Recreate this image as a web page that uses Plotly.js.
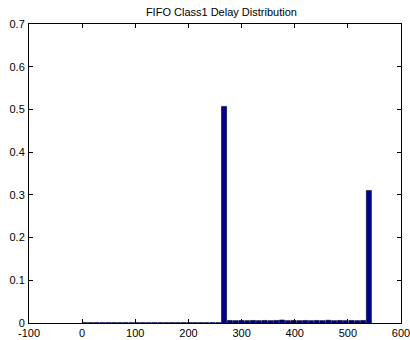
<!DOCTYPE html>
<html>
<head>
<meta charset="utf-8">
<script src="https://cdn.plot.ly/plotly-3.0.1.min.js"></script>
<style>html,body{margin:0;padding:0;background:#fff;}#chart{width:410px;height:340px;}</style>
</head>
<body>
<div id="chart"></div>
<script>
// Bin centres (delay)
const delayBins = [5.45, 16.35, 27.25, 38.15, 49.05, 59.95, 70.85, 81.75, 92.65, 103.55,
  114.45, 125.35, 136.25, 147.15, 158.05, 168.95, 179.85, 190.75, 201.65, 212.55,
  223.45, 234.35, 245.25, 256.15, 267.05, 277.95, 288.85, 299.75, 310.65, 321.55,
  332.45, 343.35, 354.25, 365.15, 376.05, 386.95, 397.85, 408.75, 419.65, 430.55,
  441.45, 452.35, 463.25, 474.15, 485.05, 495.95, 506.85, 517.75, 528.65, 539.55];
// Relative frequency per bin
const frequency = [0.0008, 0.0007, 0.0008, 0.0007, 0.0008, 0.0008, 0.0007, 0.0008, 0.0007, 0.0008,
  0.0008, 0.0007, 0.0008, 0.0008, 0.0007, 0.0008, 0.0007, 0.0008, 0.0008, 0.0007,
  0.0008, 0.0007, 0.0008, 0.0008, 0.507, 0.0060, 0.0055, 0.0060, 0.0055, 0.0060,
  0.0055, 0.0060, 0.0055, 0.0060, 0.0070, 0.0055, 0.0060, 0.0055, 0.0060, 0.0055,
  0.0060, 0.0055, 0.0065, 0.0055, 0.0060, 0.0055, 0.0060, 0.0055, 0.0060, 0.310];
const xTicks = [-100, 0, 100, 200, 300, 400, 500, 600];
const yTicks = [0, 0.1, 0.2, 0.3, 0.4, 0.5, 0.6, 0.7];

const trace = {
  type: 'bar',
  x: delayBins,
  y: frequency,
  width: 9.5,
  marker: {color: '#00008f', line: {color: '#000033', width: 0.6}},
  hoverinfo: 'x+y'
};

const axisBase = {
  showline: true, linecolor: '#000', linewidth: 1, mirror: 'ticks',
  ticks: 'inside', ticklen: 4, tickcolor: '#000', tickwidth: 1,
  showgrid: false, zeroline: false, ticklabeloverflow: 'allow',
  tickfont: {family: 'Liberation Sans, Arial, sans-serif', size: 11, color: '#000'}
};

const layout = {
  width: 410, height: 340,
  margin: {l: 29, r: 9, t: 24, b: 17},
  paper_bgcolor: '#fff', plot_bgcolor: '#fff',
  title: {text: 'FIFO Class1 Delay Distribution', x: 0.54, xanchor: 'center',
          yref: 'container', y: 0.975, yanchor: 'top',
          font: {family: 'Liberation Sans, Arial, sans-serif', size: 11, color: '#000'}},
  xaxis: Object.assign({}, axisBase, {range: [-100.0001, 600.0001], tickvals: xTicks,
          ticktext: xTicks.map(String), ticklabelstandoff: 0}),
  yaxis: Object.assign({}, axisBase, {range: [0, 0.70001], tickvals: yTicks,
          ticktext: yTicks.map(String), ticklabelstandoff: 1}),
  showlegend: false,
  bargap: 0
};

Plotly.newPlot('chart', [trace], layout, {displayModeBar: false, staticPlot: true});
</script>
</body>
</html>
